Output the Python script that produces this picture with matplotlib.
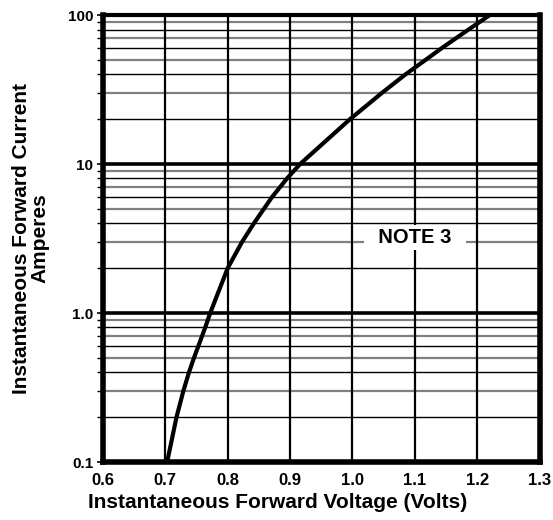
import numpy as np
import matplotlib
matplotlib.use("Agg")
import matplotlib.pyplot as plt

plt.rcParams['font.family'] = ['Liberation Sans', 'DejaVu Sans']
plt.rcParams['font.weight'] = 'bold'

# curve
volts = [0.703, 0.718, 0.729, 0.738, 0.746, 0.753, 0.764, 0.772, 0.800, 0.823, 0.842,
         0.871, 0.895, 0.916, 0.996, 1.047, 1.085, 1.117, 1.143, 1.166, 1.186, 1.220]
amps = [0.1, 0.2, 0.3, 0.4, 0.5, 0.6, 0.8, 1.0, 2.0, 3.0, 4.0,
        6.0, 8.0, 10.0, 20.0, 30.0, 40.0, 50.0, 60.0, 70.0, 80.0, 100.0]

x_ticks = [0.6, 0.7, 0.8, 0.9, 1.0, 1.1, 1.2, 1.3]
y_ticks = [0.1, 1.0, 10, 100]
y_tick_labels = ['0.1', '1.0', '10', '100']

fig = plt.figure(figsize=(5.53, 5.2), dpi=100)
ax = fig.add_axes([0.186, 0.1115, 0.790, 0.8595])
ax.set_yscale('log')
ax.set_xlim(0.6, 1.3)
ax.set_ylim(0.1, 100)

# horizontal grid: decades thick, even minors black, odd minors gray
for dec in [0.1, 1, 10]:
    for m in range(2, 10):
        y = dec * m
        if m % 2 == 0:
            ax.axhline(y, color='black', lw=1.0, zorder=1)
        else:
            ax.axhline(y, color='#808080', lw=1.6, zorder=1)
for y in [1, 10]:
    ax.axhline(y, color='black', lw=2.6, zorder=1)
for x in x_ticks[1:-1]:
    ax.axvline(x, color='black', lw=1.6, zorder=1)

ax.plot(volts, amps, color='black', lw=3.0, zorder=3, solid_capstyle='butt',
        solid_joinstyle='round')

ax.text(1.10, 3.2, '  NOTE 3  ', fontsize=14.5, fontweight='bold', ha='center', va='center',
        zorder=4, bbox=dict(facecolor='white', edgecolor='none', pad=2))

ax.set_xticks(x_ticks)
ax.set_xticklabels([f'{v:.1f}' for v in x_ticks])
ax.set_yticks(y_ticks)
ax.set_yticklabels(y_tick_labels)
ax.tick_params(axis='x', labelsize=12, length=0, pad=8)
ax.tick_params(axis='y', which='major', labelsize=11, length=4, width=1.2, pad=3)
ax.tick_params(axis='y', which='minor', length=4, width=1)
ax.yaxis.set_minor_formatter(matplotlib.ticker.NullFormatter())
for lbl in ax.get_xticklabels() + ax.get_yticklabels():
    lbl.set_fontweight('bold')

for side, w in [('left', 4), ('bottom', 4), ('top', 3), ('right', 4)]:
    ax.spines[side].set_linewidth(w)

ax.set_xlabel('Instantaneous Forward Voltage (Volts)', fontsize=15, fontweight='bold')
ax.xaxis.set_label_coords(0.40, -0.069)
ax.set_ylabel('Instantaneous Forward Current\nAmperes', fontsize=15, fontweight='bold', labelpad=13,
              linespacing=0.95)

fig.savefig('out.png', dpi=100)
